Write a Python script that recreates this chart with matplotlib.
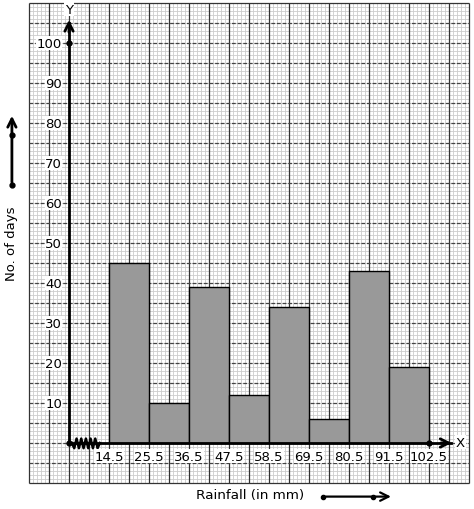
import numpy as np
import matplotlib.pyplot as plt

# rainfall classes (mm) and number of days
edges = [14.5, 25.5, 36.5, 47.5, 58.5, 69.5, 80.5, 91.5, 102.5]
days = [45, 10, 39, 12, 34, 6, 43, 19]
y_ticks = [10, 20, 30, 40, 50, 60, 70, 80, 90, 100]

fig = plt.figure(figsize=(4.74, 5.10), dpi=100)
ax = fig.add_axes([0, 0, 1, 1])
ax.set_xlim(-15.475, 114.875)
ax.set_ylim(-16.5, 111)
ax.axis("off")

# graph paper
gx0, gx1, gy0, gy1 = -7.5, 113.5, -10, 110
minor_x = np.arange(gx0, gx1 + 0.01, 1.1)
minor_y = np.arange(gy0, gy1 + 0.01, 1)
ax.vlines(minor_x, gy0, gy1, color="#cccccc", lw=0.6, zorder=0)
ax.hlines(minor_y, gx0, gx1, color="#cccccc", lw=0.6, zorder=0)
major_x = np.arange(gx0, gx1 + 0.01, 5.5)
major_y = np.arange(gy0 + 5, gy1 - 0.01, 5)
ax.vlines(major_x, gy0, gy1, color="#333333", lw=0.9, zorder=1)
ax.hlines(major_y, gx0, gx1, color="#444444", lw=0.9, linestyles=(0, (3, 1.5)), zorder=1)
ax.hlines([gy0, gy1], gx0, gx1, color="#333333", lw=0.9, zorder=1)

# histogram bars
widths = np.diff(edges)
ax.bar(edges[:-1], days, width=widths, align="edge", color="#999999",
       edgecolor="black", lw=1, zorder=3)

# axes
x0 = 3.5
ax.plot([x0, x0], [0, 105], color="black", lw=2, zorder=4)
ax.plot([x0, 108.5], [0, 0], color="black", lw=2, zorder=4)
ax.annotate("", xy=(x0, 106.5), xytext=(x0, 102),
            arrowprops=dict(arrowstyle="->,head_length=0.6,head_width=0.3", lw=2, color="black"), zorder=5)
ax.annotate("", xy=(109.5, 0), xytext=(105, 0),
            arrowprops=dict(arrowstyle="->,head_length=0.6,head_width=0.3", lw=2, color="black"), zorder=5)
ax.plot([x0, x0, 102.5], [0, 100, 0], "o", color="black", ms=3.5, zorder=6)
ax.text(x0, 108.5, "Y", ha="center", va="center", fontsize=9.5,
        bbox=dict(fc="white", ec="none", pad=0.5), zorder=5)
ax.text(111.2, 0.2, "X", ha="center", va="center", fontsize=9.5,
        bbox=dict(fc="white", ec="none", pad=0.5), zorder=5)

# kink on the x axis
zx = np.linspace(4.3, 12.0, 13)
zy = np.where(np.arange(13) % 2 == 1, -1.3, 1.1)
zy[0] = 0
zy[-1] = 0
ax.plot(zx, zy, color="black", lw=1.8, zorder=5)

# tick labels
for v in y_ticks:
    ax.text(1.6, v, str(v), ha="right", va="center", fontsize=9.5,
            bbox=dict(fc="white", ec="none", pad=0.3), zorder=5)
for e in edges:
    ax.text(e, -3.3, str(e), ha="center", va="center", fontsize=9.5,
            bbox=dict(fc="white", ec="none", pad=0.3), zorder=5)

# axis titles
ax.text(-12.2, 50, "No. of days", rotation=90, ha="center", va="center", fontsize=9.5)
ax.text(53.3, -13, "Rainfall (in mm)", ha="center", va="center", fontsize=9.7)

# direction arrows
ax.annotate("", xy=(-12.2, 82.5), xytext=(-12.2, 64.5),
            arrowprops=dict(arrowstyle="->,head_length=0.6,head_width=0.3", lw=2, color="black"))
ax.plot([-12.2, -12.2], [64.5, 77], "o", color="black", ms=3.5)
ax.annotate("", xy=(92.8, -13.4), xytext=(73.35, -13.4),
            arrowprops=dict(arrowstyle="->,head_length=0.6,head_width=0.3", lw=1.6, color="black"))
ax.plot([73.35, 87.1], [-13.4, -13.4], "o", color="black", ms=3)

fig.savefig("out.png", dpi=100)
